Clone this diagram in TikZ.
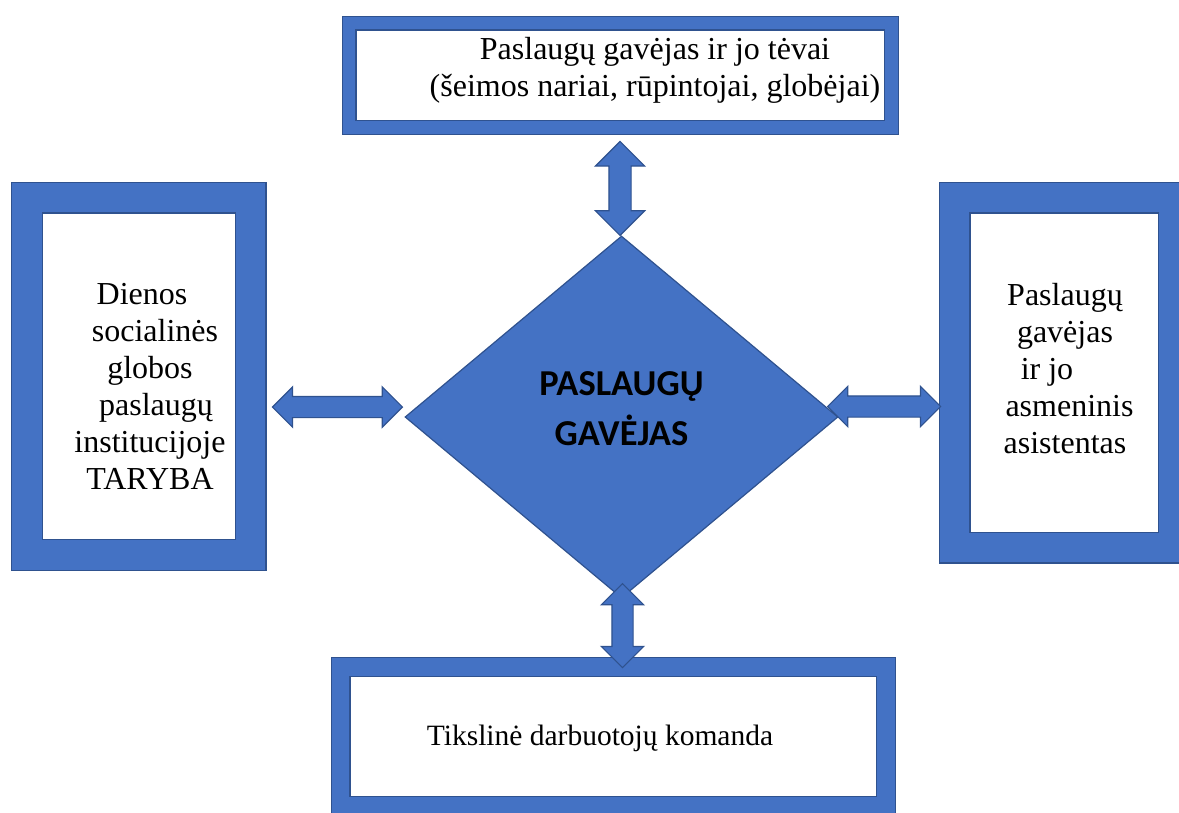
\documentclass[tikz,border=0pt]{standalone}
\usepackage{xcolor}
\usepackage{fontspec}
\setmainfont{Liberation Serif}
\newfontfamily\calibri{Carlito}
\usepackage{tikz}
\usetikzlibrary{shapes.geometric, shapes.arrows, positioning, calc}

\definecolor{boxblue}{HTML}{4472C4}
\definecolor{edgeblue}{HTML}{2F528F}

\begin{document}
\begin{tikzpicture}[
    x=1pt, y=-1pt,
    ringbox/.style={draw=edgeblue, double=boxblue, line width=1.2pt, fill=white, inner sep=0pt},
    txt/.style={align=center, font=\fontsize{32}{37}\selectfont},
    dblarrow/.style={double arrow, draw=edgeblue, fill=boxblue, line width=1.2pt, inner xsep=0pt, minimum width=0pt}
]
    \useasboundingbox (0,0) rectangle (1179,812);

    % frames
    \node[ringbox, double distance=12.6pt, minimum width=542.5pt, minimum height=104.5pt] (tevai) at (620.25,75.25) {};
    \node[ringbox, double distance=29.6pt, minimum width=223.5pt, minimum height=357.5pt] (taryba) at (138.75,376.25) {};
    \node[ringbox, double distance=29.6pt, minimum width=219pt, minimum height=350pt] (asist) at (1064,372.5) {};
    \node[ringbox, double distance=17.6pt, minimum width=545.5pt, minimum height=139pt] (komanda) at (613.25,736.5) {};

    \node[txt] (tevaiTxt) at (655,70) {Paslaugų gavėjas ir jo tėvai\\(šeimos nariai, rūpintojai, globėjai)};
    \node[txt] (tarybaTxt) at (150,386) {\hbox{Dienos\hspace{16pt}}\\\hbox{\hspace{10pt}socialinės}\\globos\\\hbox{\hspace{12pt}paslaugų}\\institucijoje\\TARYBA};
    \node[txt] (asistTxt) at (1065,369) {Paslaugų\\gavėjas\\\hbox{ir jo\hspace{36pt}}\\\hbox{\hspace{9pt}asmeninis}\\asistentas};
    \node[txt, font=\fontsize{29.5}{35}\selectfont] (komandaTxt) at (600,738) {Tikslinė darbuotojų komanda};

    % centre
    \node[diamond, draw=edgeblue, fill=boxblue, line width=1.2pt, minimum width=433pt, minimum height=362pt,
          inner sep=0pt, text depth=16pt, align=center, font=\calibri\bfseries\fontsize{36.5}{50}\selectfont] (gav) at (621.5,417) {PASLAUGŲ\\GAVĖJAS};

    % arrows
    \node[dblarrow, rotate=90, minimum height=94pt, inner ysep=10.5pt, double arrow head extend=13.5pt] (aTop) at ($(gav.north)+(-1.5,-47)$) {};
    \node[dblarrow, rotate=90, minimum height=84pt, inner ysep=10pt, double arrow head extend=10.5pt] (aBot) at ($(gav.south)+(1,27)$) {};
    \node[dblarrow, minimum height=130pt, inner ysep=10pt, double arrow head extend=9.5pt] (aLeft) at ($(gav.west)+(-67,-10)$) {};
    \node[dblarrow, minimum height=113pt, inner ysep=10pt, double arrow head extend=9.5pt] (aRight) at ($(gav.east)+(45.5,-10.5)$) {};
\end{tikzpicture}
\end{document}
